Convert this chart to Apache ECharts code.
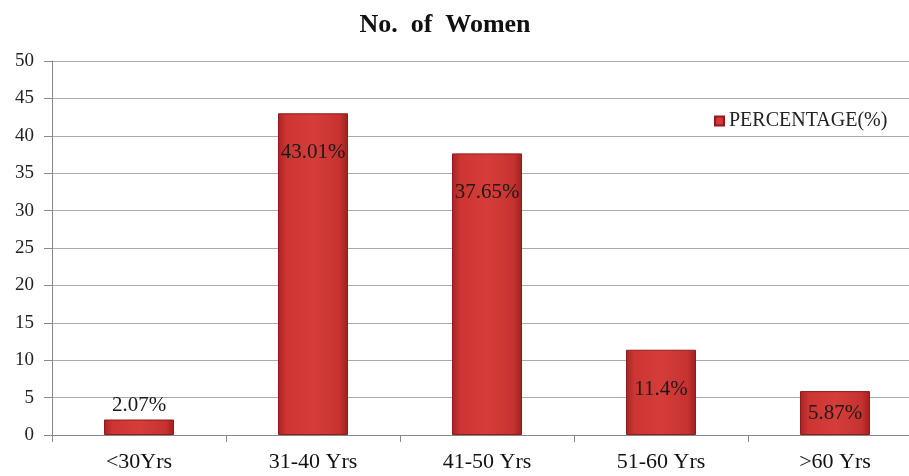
<!DOCTYPE html>
<html>
<head>
<meta charset="utf-8">
<script src="https://cdn.jsdelivr.net/npm/echarts@6/dist/echarts.min.js"></script>
<style>
    html, body { margin: 0; padding: 0; background: #fff; overflow: hidden; }
    /* 图表区右侧超出窗口一点 */
    #chart { width: 922px; height: 476px; }
</style>
</head>
<body>
<div id="chart"></div>
<script>
var categories = ['<30Yrs', '31-40 Yrs', '41-50 Yrs', '51-60 Yrs', '>60 Yrs'];
var percentValues = [2.07, 43.01, 37.65, 11.4, 5.87];
var valueLabels = ['2.07%', '43.01%', '37.65%', '11.4%', '5.87%'];
var labelPlaces = ['top', 'insideTop', 'insideTop', 'insideTop', 'inside'];

var serif = '"Liberation Serif", "DejaVu Serif", serif';

var myChart = echarts.init(document.getElementById('chart'));

// 柱子颜色 - 中间亮两边暗
var barColor = new echarts.graphic.LinearGradient(0, 0, 1, 0, [
    { offset: 0, color: '#a82424' },
    { offset: 0.12, color: '#cc3532' },
    { offset: 0.5, color: '#d63d3a' },
    { offset: 0.88, color: '#c63230' },
    { offset: 1, color: '#9e2020' }
]);

var barData = percentValues.map(function (v, i) {
    return {
        value: v,
        label: {
            position: labelPlaces[i],
            distance: labelPlaces[i] == 'insideTop' ? 29 : 4,
            formatter: valueLabels[i]
        }
    };
});

var option = {
    animation: false,
    title: {
        text: 'No.  of  Women',
        left: 440,
        textAlign: 'center',
        top: 7,
        textStyle: {
            fontFamily: serif,
            fontSize: 26,
            fontWeight: 'bold',
            color: '#111'
        }
    },
    legend: {
        left: 709,
        top: 106,
        itemWidth: 9,
        itemHeight: 9,
        icon: 'rect',
        itemGap: 4,
        textStyle: {
            fontFamily: serif,
            fontSize: 20,
            color: '#222'
        },
        data: ['PERCENTAGE(%)']
    },
    grid: {
        left: 52,
        right: 0,
        top: 61,
        bottom: 41
    },
    xAxis: {
        type: 'category',
        data: categories,
        axisLine: { lineStyle: { color: '#888' } },
        axisTick: { show: true, length: 7, lineStyle: { color: '#888' } },
        axisLabel: {
            margin: 16,
            fontFamily: serif,
            fontSize: 22,
            color: '#111'
        }
    },
    yAxis: {
        type: 'value',
        min: 0,
        max: 50,
        interval: 5,
        axisLine: { show: true, lineStyle: { color: '#888' } },
        axisTick: { show: true, length: 8, lineStyle: { color: '#888' } },
        splitLine: { lineStyle: { color: '#aaa', width: 1 } },
        axisLabel: {
            margin: 18,
            fontFamily: serif,
            fontSize: 19,
            color: '#222'
        }
    },
    series: [{
        name: 'PERCENTAGE(%)',
        type: 'bar',
        barWidth: 70,
        data: barData,
        itemStyle: {
            color: barColor,
            borderColor: '#8e1c1c',
            borderWidth: 1
        },
        label: {
            show: true,
            fontFamily: serif,
            fontSize: 21,
            color: '#1a1a1a'
        }
    }]
};

myChart.setOption(option);
</script>
</body>
</html>
